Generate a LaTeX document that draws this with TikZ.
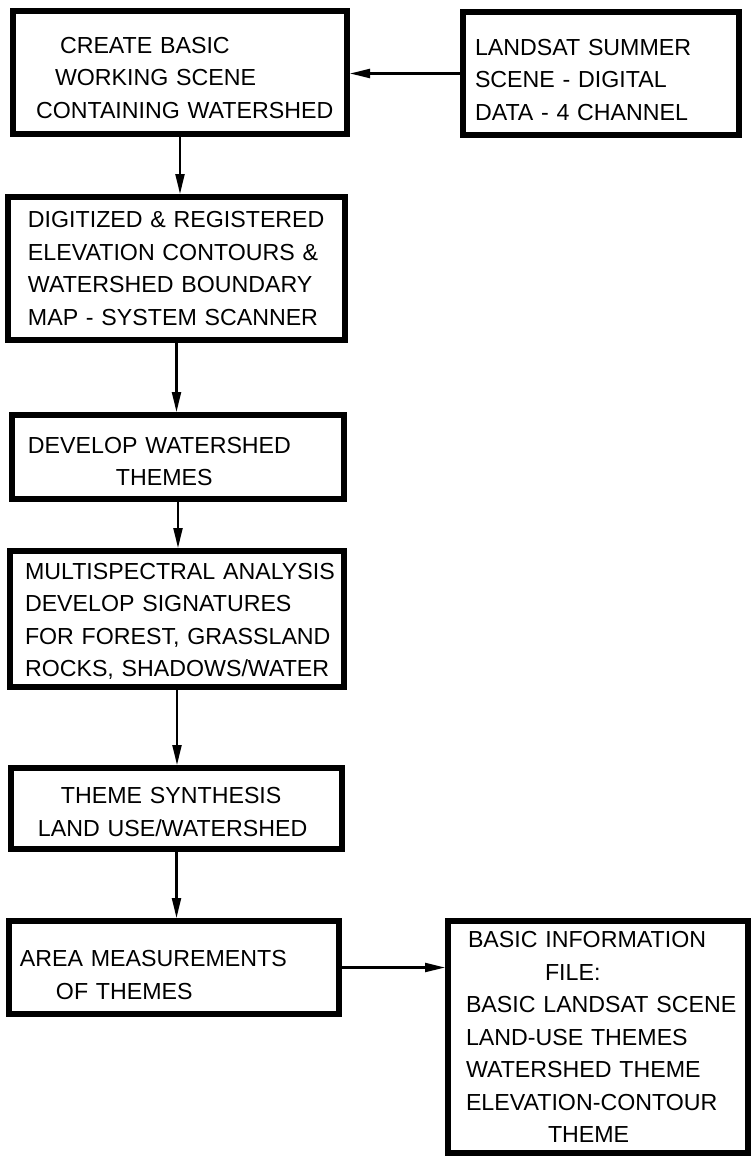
\documentclass[tikz,border=0pt]{standalone}
\usepackage{fontspec}
\setmainfont{Liberation Sans}
\usetikzlibrary{arrows.meta}
\newcommand{\ind}[1]{\hspace*{#1pt}}
\newcommand{\down}[1]{\rule{0pt}{\dimexpr17pt+#1pt\relax}}

\begin{document}
\begin{tikzpicture}[x=1pt, y=-1pt,
    stepbox/.style={draw, line width=6pt, inner xsep=0pt, inner ysep=0pt, align=left, font=\fontsize{23.2}{32.5}\selectfont},
    flow/.style={-{Triangle[length=20pt,width=9pt]}, line width=2.2pt}]
    \useasboundingbox (0,0) rectangle (751,1157);

    \node[stepbox, text width=334pt, minimum height=123pt] (create) at (180,72.5) {\down{10}\ind{47}CREATE BASIC\\\ind{42}WORKING SCENE\\\ind{23}CONTAINING WATERSHED};
    \node[stepbox, text width=276pt, minimum height=123pt] (landsat) at (601,73.5) {\down{12}\ind{12}LANDSAT SUMMER\\\ind{12}SCENE - DIGITAL\\\ind{12}DATA - 4 CHANNEL};
    \node[stepbox, text width=337pt, minimum height=143pt] (digitize) at (176.5,268.5) {\ind{20}DIGITIZED \& REGISTERED\\\ind{20}ELEVATION CONTOURS \&\\\ind{20}WATERSHED BOUNDARY\\\ind{20}MAP - SYSTEM SCANNER};
    \node[stepbox, text width=332pt, minimum height=84pt] (themes) at (178,457) {\down{8}\ind{16}DEVELOP WATERSHED\\\ind{104}THEMES};
    \node[stepbox, text width=334pt, minimum height=136pt] (multispec) at (177,619) {\down{4}\ind{15}MULTISPECTRAL ANALYSIS\\\ind{15}DEVELOP SIGNATURES\\\ind{15}FOR FOREST, GRASSLAND\\\ind{15}ROCKS, SHADOWS/WATER};
    \node[stepbox, text width=331pt, minimum height=81pt] (synth) at (176.5,808.5) {\down{6}\ind{50}THEME SYNTHESIS\\\ind{27}LAND USE/WATERSHED};
    \node[stepbox, text width=330pt, minimum height=93pt] (area) at (174,967.5) {\down{14}\ind{11}AREA MEASUREMENTS\\\ind{47}OF THEMES};
    \node[stepbox, text width=300pt, minimum height=232pt] (infofile) at (598,1037) {\ind{20}BASIC INFORMATION\\\ind{97}FILE:\\\ind{18}BASIC LANDSAT SCENE\\\ind{18}LAND-USE THEMES\\\ind{18}WATERSHED THEME\\\ind{18}ELEVATION-CONTOUR\\\ind{100}THEME};

    \draw[flow] (landsat) -- (landsat -| create.east);
    \draw[flow] (create) -- (create |- digitize.north);
    \draw[flow] (digitize) -- (digitize |- themes.north);
    \draw[flow] (themes) -- (themes |- multispec.north);
    \draw[flow] (multispec) -- (multispec |- synth.north);
    \draw[flow] (synth) -- (synth |- area.north);
    \draw[flow] (area) -- (area -| infofile.west);
\end{tikzpicture}
\end{document}
